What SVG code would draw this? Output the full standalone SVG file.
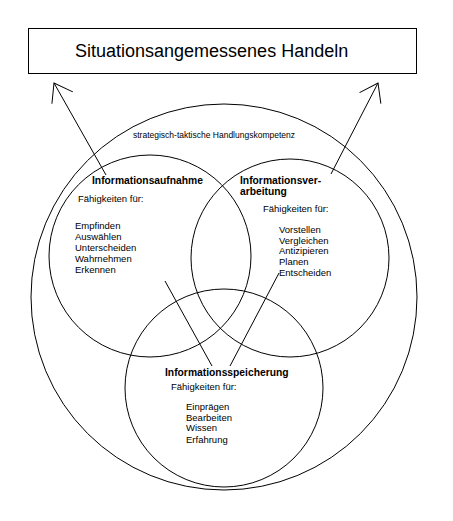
<svg xmlns="http://www.w3.org/2000/svg" width="453" height="521" viewBox="0 0 453 521">
<style>
.ln{fill:none;stroke:#000;stroke-width:1}
.t{font-family:"Liberation Sans",Arial,sans-serif;font-size:9.5px;fill:#000}
.b{font-family:"Liberation Sans",Arial,sans-serif;font-size:10.3px;font-weight:bold;fill:#000}
.h{font-family:"Liberation Sans",Arial,sans-serif;font-size:18px;fill:#000}
</style>
<defs>
<marker id="arr" markerUnits="userSpaceOnUse" markerWidth="24" markerHeight="30" refX="0" refY="0" viewBox="-20 -15 24 30" orient="auto" overflow="visible">
<path d="M-17,-12 L0,0 L-17,12" fill="none" stroke="#000" stroke-width="1"/>
</marker>
</defs>
<rect width="453" height="521" fill="#fff"/>
<g id="title">
<rect class="ln" x="28.5" y="28.5" width="388" height="45"/>
<text class="h" x="75" y="57">Situationsangemessenes Handeln</text>
</g>
<g id="kompetenz">
<circle class="ln" cx="224" cy="297" r="193"/>
<text class="t" x="133" y="138" textLength="162" lengthAdjust="spacingAndGlyphs">strategisch-taktische Handlungskompetenz</text>
</g>
<g id="aufnahme">
<circle class="ln" cx="150" cy="256" r="101"/>
<text class="b" x="92" y="184">Informationsaufnahme</text>
<text class="t" x="78" y="202">Fähigkeiten für:</text>
<text class="t" x="75" y="229">Empfinden</text>
<text class="t" x="75" y="240">Auswählen</text>
<text class="t" x="75" y="251">Unterscheiden</text>
<text class="t" x="75" y="261.5">Wahrnehmen</text>
<text class="t" x="75" y="272.5">Erkennen</text>
</g>
<g id="verarbeitung">
<circle class="ln" cx="290" cy="258" r="99"/>
<text class="b" x="240" y="184">Informationsver-</text>
<text class="b" x="240" y="195">arbeitung</text>
<text class="t" x="263" y="212">Fähigkeiten für:</text>
<text class="t" x="279" y="233">Vorstellen</text>
<text class="t" x="279" y="243.5">Vergleichen</text>
<text class="t" x="279" y="254">Antizipieren</text>
<text class="t" x="279" y="264.5">Planen</text>
<text class="t" x="279" y="276">Entscheiden</text>
</g>
<g id="speicherung">
<circle class="ln" cx="224" cy="388" r="99"/>
<text class="b" x="165" y="376">Informationsspeicherung</text>
<text class="t" x="171" y="390">Fähigkeiten für:</text>
<text class="t" x="186" y="410">Einprägen</text>
<text class="t" x="186" y="420.5">Bearbeiten</text>
<text class="t" x="186" y="431">Wissen</text>
<text class="t" x="186" y="442.5">Erfahrung</text>
</g>
<g id="connectors">
<line class="ln" x1="106" y1="175" x2="54" y2="83" marker-end="url(#arr)"/>
<line class="ln" x1="331" y1="174" x2="378" y2="83" marker-end="url(#arr)"/>
<line class="ln" x1="165" y1="281" x2="212" y2="366"/>
<line class="ln" x1="279" y1="273" x2="230" y2="366"/>
</g>
</svg>
